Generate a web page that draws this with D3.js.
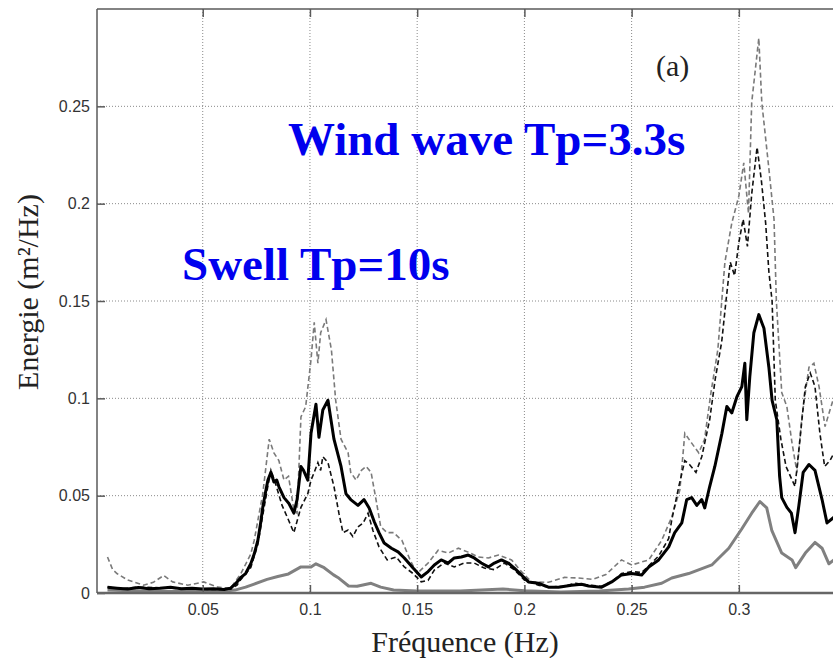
<!DOCTYPE html>
<html>
<head>
<meta charset="utf-8">
<script src="https://cdn.jsdelivr.net/npm/d3@7"></script>
<style>
  html, body { margin: 0; padding: 0; background: #fff; }
  svg { display: block; }
</style>
</head>
<body>
<svg id="chart" width="833" height="658"></svg>
<script>
// ---------- data ----------
const xTicks = [0.05, 0.1, 0.15, 0.2, 0.25, 0.3];
const yTicks = [0, 0.05, 0.1, 0.15, 0.2, 0.25];
const xTickLabels = ["0.05", "0.1", "0.15", "0.2", "0.25", "0.3"];
const yTickLabels = ["0", "0.05", "0.1", "0.15", "0.2", "0.25"];

// thick black solid line
const freqMean = [0.0056,0.010,0.015,0.020,0.025,0.030,0.035,0.040,0.045,0.050,0.055,0.060,0.063,0.0655,0.0678,0.070,0.0724,0.074,0.0757,0.077,0.078,0.0795,0.0804,0.0818,0.0832,0.0845,0.0855,0.0879,0.0902,0.0925,0.094,0.0958,0.097,0.099,0.1005,0.1028,0.1042,0.106,0.1084,0.1112,0.1145,0.1168,0.119,0.1224,0.1252,0.1276,0.130,0.1322,0.1346,0.138,0.1411,0.144,0.1481,0.1519,0.1551,0.158,0.1612,0.1645,0.1673,0.1706,0.1738,0.1766,0.1799,0.1832,0.186,0.1893,0.1925,0.1953,0.1986,0.2019,0.2065,0.2112,0.2159,0.222,0.2266,0.2299,0.236,0.2407,0.2453,0.250,0.2547,0.258,0.2626,0.2673,0.2701,0.2734,0.2757,0.278,0.2804,0.2827,0.2841,0.2864,0.2888,0.2921,0.2944,0.2967,0.2991,0.3014,0.3028,0.3037,0.3051,0.307,0.3093,0.3117,0.314,0.3155,0.3177,0.319,0.320,0.3224,0.3245,0.3262,0.328,0.330,0.3327,0.3355,0.3388,0.3411,0.3444];
const energyMean = [0.003,0.0025,0.002,0.0028,0.0022,0.0025,0.003,0.0022,0.0025,0.002,0.0022,0.0018,0.0025,0.005,0.008,0.010,0.015,0.020,0.027,0.036,0.044,0.053,0.058,0.062,0.057,0.058,0.0547,0.049,0.046,0.041,0.048,0.065,0.063,0.058,0.082,0.097,0.080,0.094,0.099,0.079,0.065,0.051,0.048,0.045,0.048,0.0437,0.0366,0.031,0.0257,0.023,0.0211,0.018,0.0128,0.0082,0.011,0.0144,0.017,0.0154,0.018,0.0185,0.0195,0.018,0.0154,0.0134,0.0154,0.017,0.0154,0.0128,0.0093,0.0057,0.005,0.003,0.003,0.004,0.0045,0.0036,0.003,0.0057,0.0093,0.010,0.0093,0.0134,0.017,0.0237,0.031,0.036,0.048,0.049,0.045,0.048,0.0437,0.0547,0.065,0.082,0.0958,0.0925,0.1008,0.106,0.118,0.089,0.111,0.1337,0.143,0.136,0.116,0.099,0.089,0.060,0.049,0.044,0.041,0.031,0.045,0.062,0.066,0.063,0.048,0.036,0.039];

// black dashed line
const freqLow = [0.0056,0.012,0.020,0.028,0.035,0.045,0.055,0.063,0.066,0.0678,0.0724,0.0757,0.078,0.0804,0.0818,0.084,0.087,0.090,0.0925,0.0958,0.099,0.1005,0.102,0.1037,0.105,0.106,0.1084,0.1112,0.1135,0.1154,0.1178,0.120,0.1224,0.1248,0.1271,0.1294,0.1322,0.136,0.1402,0.144,0.1481,0.1519,0.1551,0.158,0.1626,0.1673,0.172,0.1766,0.1813,0.186,0.1907,0.1953,0.200,0.2065,0.212,0.218,0.224,0.230,0.236,0.241,0.2453,0.250,0.2547,0.258,0.2626,0.2673,0.2687,0.272,0.2748,0.277,0.280,0.2827,0.2864,0.289,0.292,0.294,0.296,0.298,0.300,0.302,0.304,0.306,0.3085,0.3105,0.3125,0.314,0.3155,0.317,0.3196,0.322,0.3262,0.3285,0.331,0.3333,0.3355,0.3378,0.340,0.3425,0.3444];
const energyLow = [0.003,0.0022,0.003,0.0028,0.0025,0.002,0.0018,0.002,0.004,0.007,0.013,0.025,0.040,0.055,0.063,0.056,0.045,0.0375,0.031,0.044,0.051,0.058,0.062,0.067,0.063,0.070,0.067,0.0547,0.041,0.031,0.0324,0.029,0.034,0.036,0.041,0.032,0.0237,0.017,0.0185,0.0134,0.010,0.0057,0.0065,0.0118,0.0154,0.0134,0.0154,0.0154,0.0128,0.012,0.0154,0.012,0.0067,0.004,0.003,0.0035,0.005,0.004,0.0035,0.006,0.010,0.011,0.0105,0.014,0.019,0.028,0.0375,0.0547,0.068,0.066,0.062,0.070,0.089,0.110,0.129,0.150,0.170,0.163,0.180,0.192,0.178,0.205,0.229,0.212,0.190,0.165,0.150,0.099,0.079,0.065,0.0547,0.079,0.106,0.113,0.106,0.082,0.065,0.068,0.072];

// grey dashed line
const freqHigh = [0.0056,0.008,0.010,0.015,0.0224,0.027,0.0318,0.036,0.043,0.0505,0.057,0.063,0.0678,0.0724,0.074,0.078,0.081,0.0832,0.0855,0.0879,0.090,0.0925,0.094,0.0958,0.098,0.1005,0.102,0.1037,0.105,0.1075,0.110,0.112,0.1145,0.1178,0.119,0.1215,0.124,0.1262,0.1285,0.1308,0.133,0.136,0.139,0.1429,0.1467,0.150,0.1551,0.1598,0.1645,0.1692,0.1738,0.1785,0.1832,0.1879,0.194,0.1986,0.2033,0.2112,0.2187,0.2252,0.232,0.238,0.2453,0.250,0.258,0.264,0.2687,0.2725,0.2748,0.278,0.2813,0.284,0.287,0.2902,0.2935,0.2967,0.300,0.3023,0.3045,0.306,0.3093,0.3107,0.314,0.3164,0.3175,0.320,0.3224,0.3248,0.3271,0.3294,0.3327,0.335,0.3374,0.3402,0.3425,0.3444];
const energyHigh = [0.0185,0.012,0.010,0.0067,0.004,0.0055,0.009,0.0057,0.004,0.0057,0.003,0.0025,0.010,0.020,0.027,0.051,0.079,0.072,0.068,0.058,0.060,0.0427,0.041,0.0905,0.0957,0.120,0.139,0.118,0.1337,0.1404,0.125,0.099,0.079,0.072,0.062,0.058,0.063,0.065,0.062,0.048,0.034,0.031,0.031,0.027,0.017,0.010,0.0154,0.022,0.0205,0.023,0.021,0.0185,0.018,0.0195,0.017,0.011,0.0057,0.0055,0.008,0.0077,0.007,0.0095,0.017,0.0144,0.017,0.027,0.039,0.053,0.082,0.077,0.072,0.079,0.103,0.125,0.170,0.190,0.204,0.221,0.195,0.252,0.285,0.252,0.218,0.192,0.150,0.103,0.0957,0.077,0.062,0.0905,0.116,0.118,0.106,0.0855,0.094,0.1008];

// grey solid line
const freqGrey = [0.0056,0.020,0.040,0.060,0.065,0.070,0.074,0.080,0.085,0.090,0.0958,0.1005,0.1028,0.1066,0.111,0.113,0.118,0.122,0.1285,0.133,0.139,0.150,0.170,0.190,0.200,0.217,0.235,0.2486,0.256,0.264,0.2687,0.2766,0.2874,0.2953,0.3014,0.306,0.3098,0.313,0.3154,0.320,0.3248,0.3265,0.331,0.3355,0.3388,0.342,0.3444];
const energyGrey = [0.0015,0.001,0.0008,0.001,0.0015,0.003,0.0046,0.007,0.0085,0.0098,0.0134,0.0134,0.015,0.013,0.0093,0.008,0.0036,0.0035,0.005,0.003,0.0015,0.001,0.001,0.002,0.0012,0.0005,0.001,0.002,0.003,0.005,0.0077,0.010,0.0144,0.023,0.033,0.041,0.047,0.0437,0.032,0.0205,0.017,0.013,0.0205,0.026,0.023,0.015,0.017];

// ---------- chart ----------
const svg = d3.select("#chart");
const mLeft = 97, mTop = 9, mBottom = 593, mRight = 845;

const x = d3.scaleLinear().domain([0.0007, 0.3495]).range([mLeft, mRight]);
const y = d3.scaleLinear().domain([0, 0.3]).range([mBottom, mTop]);

// grid
const grid = svg.append("g");
grid.selectAll("line.vx").data(xTicks).join("line")
  .attr("x1", d => x(d)).attr("x2", d => x(d))
  .attr("y1", mTop).attr("y2", mBottom)
  .attr("stroke", "#8a8a8a").attr("stroke-width", 1).attr("stroke-dasharray", "1,2");
grid.selectAll("line.hy").data(yTicks.filter(d => d > 0)).join("line")
  .attr("x1", mLeft).attr("x2", mRight)
  .attr("y1", d => y(d)).attr("y2", d => y(d))
  .attr("stroke", "#8a8a8a").attr("stroke-width", 1).attr("stroke-dasharray", "1,2");

// series
const line = d3.line().x(d => x(d[0])).y(d => y(d[1]));
const zip = (a, b) => a.map((v, i) => [v, b[i]]);

const plot = svg.append("g");
plot.append("path").datum(zip(freqGrey, energyGrey))
  .attr("d", line).attr("fill", "none").attr("stroke", "#808080").attr("stroke-width", 3)
  .attr("stroke-linejoin", "round");
plot.append("path").datum(zip(freqHigh, energyHigh))
  .attr("d", line).attr("fill", "none").attr("stroke", "#7a7a7a").attr("stroke-width", 1.6)
  .attr("stroke-dasharray", "5,3");
plot.append("path").datum(zip(freqLow, energyLow))
  .attr("d", line).attr("fill", "none").attr("stroke", "#111").attr("stroke-width", 1.6)
  .attr("stroke-dasharray", "5,3");
plot.append("path").datum(zip(freqMean, energyMean))
  .attr("d", line).attr("fill", "none").attr("stroke", "#000").attr("stroke-width", 3)
  .attr("stroke-linejoin", "round");

// axes (MATLAB style: ticks inside)
const axisColor = "#5a5a5a";
const xAxisB = d3.axisBottom(x).tickValues(xTicks).tickSize(-8).tickFormat((d, i) => xTickLabels[i]);
const xAxisT = d3.axisTop(x).tickValues(xTicks).tickSize(-8).tickFormat("");
const yAxisL = d3.axisLeft(y).tickValues(yTicks).tickSize(-8).tickFormat((d, i) => yTickLabels[i]);

function styleAxis(g) {
  g.select(".domain").remove();
  g.selectAll(".tick line").attr("stroke", axisColor).attr("stroke-width", 1.5);
  g.selectAll(".tick text").attr("fill", "#333")
    .style("font-family", "'Liberation Sans', Arial, sans-serif").style("font-size", "16px");
}
svg.append("g").attr("transform", `translate(0,${mBottom})`).call(xAxisB).call(styleAxis)
  .selectAll(".tick text").attr("dy", null).attr("y", 22);
svg.append("g").attr("transform", `translate(0,${mTop})`).call(xAxisT).call(styleAxis);
svg.append("g").attr("transform", `translate(${mLeft},0)`).call(yAxisL).call(styleAxis)
  .selectAll(".tick text").attr("x", -7);

// frame lines
svg.append("line").attr("x1", mLeft).attr("x2", mRight).attr("y1", mBottom).attr("y2", mBottom)
  .attr("stroke", "#666").attr("stroke-width", 2.5);
svg.append("line").attr("x1", mLeft).attr("x2", mRight).attr("y1", mTop).attr("y2", mTop)
  .attr("stroke", axisColor).attr("stroke-width", 1.5);
svg.append("line").attr("x1", mLeft).attr("x2", mLeft).attr("y1", mTop).attr("y2", mBottom)
  .attr("stroke", axisColor).attr("stroke-width", 1.5);

// axis titles
const serif = "'Liberation Serif', 'Times New Roman', serif";
svg.append("text").attr("x", 465).attr("y", 652).attr("text-anchor", "middle")
  .style("font-family", serif).style("font-size", "30px").attr("fill", "#222")
  .text("Fréquence (Hz)");
svg.append("text").attr("transform", "translate(38,292) rotate(-90)").attr("text-anchor", "middle")
  .style("font-family", serif).style("font-size", "30px").attr("fill", "#222")
  .text("Energie (m²/Hz)");

// annotations
svg.append("text").attr("x", 656).attr("y", 76)
  .style("font-family", serif).style("font-size", "30px").attr("fill", "#222")
  .text("(a)");
svg.append("text").attr("x", 288).attr("y", 155)
  .style("font-family", serif).style("font-size", "47px").style("font-weight", "bold")
  .attr("fill", "#0000ee").text("Wind wave Tp=3.3s");
svg.append("text").attr("x", 182).attr("y", 280)
  .style("font-family", serif).style("font-size", "47px").style("font-weight", "bold")
  .attr("fill", "#0000ee").text("Swell Tp=10s");
</script>
</body>
</html>
